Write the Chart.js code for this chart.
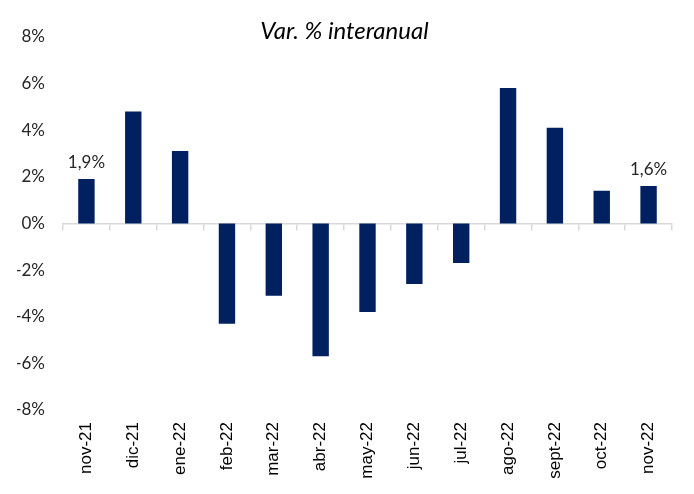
<!DOCTYPE html>
<html>
<head>
<meta charset="utf-8">
<script src="https://cdn.jsdelivr.net/npm/chart.js@4"></script>
<style>
  html, body { margin: 0; padding: 0; background: #fff; }
  #wrap { width: 694px; height: 494px; }
</style>
</head>
<body>
<div id="wrap"><canvas id="chart"></canvas></div>
<script>
// datos
const months = ['nov-21', 'dic-21', 'ene-22', 'feb-22', 'mar-22', 'abr-22', 'may-22',
                'jun-22', 'jul-22', 'ago-22', 'sept-22', 'oct-22', 'nov-22'];
const varInteranual = [1.9, 4.8, 3.1, -4.3, -3.1, -5.7, -3.8, -2.6, -1.7, 5.8, 4.1, 1.4, 1.6];
const labelledIdx = [0, 12];
const yTicks = [-8, -6, -4, -2, 0, 2, 4, 6, 8];

const FONT = 'Lato, "Open Sans", sans-serif';
const XFONT = '"Liberation Sans", Arial, sans-serif';
const TEXT = '#262626';
const AXIS = '#d9d9d9';

// etiquetas sólo en el primer y último mes
const valueLabels = {
    id: 'valueLabels',
    afterDatasetsDraw(chart) {
        const ctx = chart.ctx;
        const meta = chart.getDatasetMeta(0);
        ctx.save();
        ctx.font = '17px ' + FONT;
        ctx.fillStyle = TEXT;
        ctx.textAlign = 'center';
        ctx.textBaseline = 'bottom';
        labelledIdx.forEach(i => {
            const bar = meta.data[i];
            const txt = varInteranual[i].toFixed(1).replace('.', ',') + '%';
            ctx.fillText(txt, bar.x, bar.y - 8);
        });
        ctx.restore();
    }
};

new Chart(document.getElementById('chart'), {
    type: 'bar',
    data: {
        labels: months,
        datasets: [{
            data: varInteranual,
            backgroundColor: '#002060',
            barPercentage: 0.35,
            categoryPercentage: 1
        }]
    },
    options: {
        responsive: true,
        maintainAspectRatio: false,
        animation: false,
        layout: { padding: { left: 17, right: 22, top: 0, bottom: 0 } },
        plugins: {
            legend: { display: false },
            tooltip: { enabled: false },
            title: {
                display: true,
                text: 'Var. % interanual',
                color: '#000',
                font: { family: FONT, size: 24, style: 'italic', weight: 'normal', lineHeight: 1.2 },
                padding: { top: 17, bottom: -9 }
            }
        },
        scales: {
            // línea del cero con marcas entre meses
            x: {
                position: { y: 0 },
                offset: true,
                border: { display: true, color: AXIS, width: 1.5 },
                grid: { display: true, offset: true, drawOnChartArea: false, drawTicks: true, tickLength: 6, color: AXIS, lineWidth: 1.5 },
                ticks: { display: false },
                afterFit(axis) { axis.height = 0; }
            },
            x2: {
                type: 'category',
                labels: months,
                position: 'bottom',
                offset: true,
                border: { display: false },
                grid: { display: false, drawTicks: false },
                ticks: { color: '#000', font: { family: XFONT, size: 17 }, minRotation: 90, maxRotation: 90, padding: 12, autoSkip: false },
                afterFit(axis) { axis.height = 84; }
            },
            y: {
                min: -8,
                max: 8,
                border: { display: false },
                grid: { display: false, drawTicks: false },
                afterBuildTicks(axis) { axis.ticks = yTicks.map(v => ({ value: v })); },
                afterFit(axis) { axis.width = 46; },
                ticks: {
                    color: TEXT,
                    font: { family: FONT, size: 17 },
                    padding: 18,
                    callback: v => v + '%'
                }
            }
        }
    },
    plugins: [valueLabels]
});
</script>
</body>
</html>
